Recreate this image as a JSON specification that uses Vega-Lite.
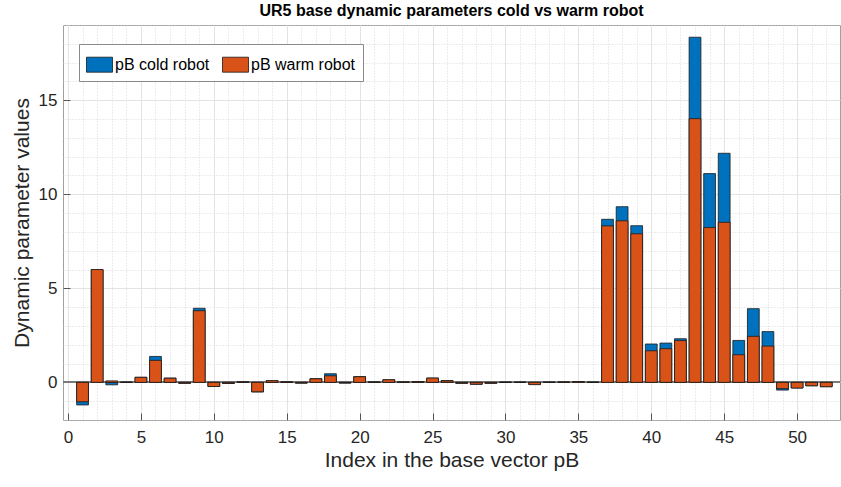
{
  "$schema": "https://vega.github.io/schema/vega-lite/v6.json",
  "width": 777,
  "height": 395,
  "autosize": "none",
  "padding": {"left": 63, "top": 25, "right": 1, "bottom": 67},
  "background": "white",
  "title": {"text": "UR5 base dynamic parameters cold vs warm robot", "fontSize": 16, "fontWeight": "bold", "color": "#000000", "anchor": "middle", "offset": 6},
  "config": {
    "font": "Liberation Sans",
    "view": {"stroke": "#a0a0a0", "strokeWidth": 1},
    "axis": {"labelColor": "#262626", "titleColor": "#262626", "titleFontWeight": "normal", "domain": false}
  },
  "data": {"values": [
    {"i": 1, "series": "cold", "v": -1.20},
    {"i": 2, "series": "cold", "v": 5.99},
    {"i": 3, "series": "cold", "v": -0.13},
    {"i": 4, "series": "cold", "v": 0.01},
    {"i": 5, "series": "cold", "v": 0.27},
    {"i": 6, "series": "cold", "v": 1.38},
    {"i": 7, "series": "cold", "v": 0.23},
    {"i": 8, "series": "cold", "v": -0.05},
    {"i": 9, "series": "cold", "v": 3.94},
    {"i": 10, "series": "cold", "v": -0.22},
    {"i": 11, "series": "cold", "v": -0.06},
    {"i": 12, "series": "cold", "v": 0.03},
    {"i": 13, "series": "cold", "v": -0.51},
    {"i": 14, "series": "cold", "v": 0.09},
    {"i": 15, "series": "cold", "v": 0.03},
    {"i": 16, "series": "cold", "v": -0.04},
    {"i": 17, "series": "cold", "v": 0.20},
    {"i": 18, "series": "cold", "v": 0.46},
    {"i": 19, "series": "cold", "v": -0.04},
    {"i": 20, "series": "cold", "v": 0.31},
    {"i": 21, "series": "cold", "v": 0.02},
    {"i": 22, "series": "cold", "v": 0.14},
    {"i": 23, "series": "cold", "v": 0.02},
    {"i": 24, "series": "cold", "v": 0.04},
    {"i": 25, "series": "cold", "v": 0.23},
    {"i": 26, "series": "cold", "v": 0.10},
    {"i": 27, "series": "cold", "v": -0.05},
    {"i": 28, "series": "cold", "v": -0.10},
    {"i": 29, "series": "cold", "v": -0.05},
    {"i": 30, "series": "cold", "v": 0.01},
    {"i": 31, "series": "cold", "v": 0.01},
    {"i": 32, "series": "cold", "v": -0.10},
    {"i": 33, "series": "cold", "v": 0.01},
    {"i": 34, "series": "cold", "v": 0.02},
    {"i": 35, "series": "cold", "v": 0.04},
    {"i": 36, "series": "cold", "v": 0.01},
    {"i": 37, "series": "cold", "v": 8.67},
    {"i": 38, "series": "cold", "v": 9.34},
    {"i": 39, "series": "cold", "v": 8.33},
    {"i": 40, "series": "cold", "v": 2.04},
    {"i": 41, "series": "cold", "v": 2.09},
    {"i": 42, "series": "cold", "v": 2.32},
    {"i": 43, "series": "cold", "v": 18.35},
    {"i": 44, "series": "cold", "v": 11.10},
    {"i": 45, "series": "cold", "v": 12.18},
    {"i": 46, "series": "cold", "v": 2.23},
    {"i": 47, "series": "cold", "v": 3.92},
    {"i": 48, "series": "cold", "v": 2.70},
    {"i": 49, "series": "cold", "v": -0.41},
    {"i": 50, "series": "cold", "v": -0.30},
    {"i": 51, "series": "cold", "v": -0.18},
    {"i": 52, "series": "cold", "v": -0.23},
    {"i": 1, "series": "warm", "v": -1.03},
    {"i": 2, "series": "warm", "v": 6.00},
    {"i": 3, "series": "warm", "v": 0.08},
    {"i": 4, "series": "warm", "v": 0.01},
    {"i": 5, "series": "warm", "v": 0.27},
    {"i": 6, "series": "warm", "v": 1.17},
    {"i": 7, "series": "warm", "v": 0.22},
    {"i": 8, "series": "warm", "v": -0.05},
    {"i": 9, "series": "warm", "v": 3.81},
    {"i": 10, "series": "warm", "v": -0.22},
    {"i": 11, "series": "warm", "v": -0.06},
    {"i": 12, "series": "warm", "v": 0.03},
    {"i": 13, "series": "warm", "v": -0.50},
    {"i": 14, "series": "warm", "v": 0.09},
    {"i": 15, "series": "warm", "v": 0.03},
    {"i": 16, "series": "warm", "v": -0.04},
    {"i": 17, "series": "warm", "v": 0.19},
    {"i": 18, "series": "warm", "v": 0.35},
    {"i": 19, "series": "warm", "v": -0.03},
    {"i": 20, "series": "warm", "v": 0.30},
    {"i": 21, "series": "warm", "v": 0.02},
    {"i": 22, "series": "warm", "v": 0.14},
    {"i": 23, "series": "warm", "v": 0.02},
    {"i": 24, "series": "warm", "v": 0.04},
    {"i": 25, "series": "warm", "v": 0.23},
    {"i": 26, "series": "warm", "v": 0.08},
    {"i": 27, "series": "warm", "v": -0.05},
    {"i": 28, "series": "warm", "v": -0.10},
    {"i": 29, "series": "warm", "v": -0.05},
    {"i": 30, "series": "warm", "v": 0.01},
    {"i": 31, "series": "warm", "v": 0.01},
    {"i": 32, "series": "warm", "v": -0.12},
    {"i": 33, "series": "warm", "v": 0.01},
    {"i": 34, "series": "warm", "v": 0.02},
    {"i": 35, "series": "warm", "v": 0.04},
    {"i": 36, "series": "warm", "v": 0.01},
    {"i": 37, "series": "warm", "v": 8.32},
    {"i": 38, "series": "warm", "v": 8.59},
    {"i": 39, "series": "warm", "v": 7.90},
    {"i": 40, "series": "warm", "v": 1.68},
    {"i": 41, "series": "warm", "v": 1.79},
    {"i": 42, "series": "warm", "v": 2.22},
    {"i": 43, "series": "warm", "v": 14.02},
    {"i": 44, "series": "warm", "v": 8.23},
    {"i": 45, "series": "warm", "v": 8.51},
    {"i": 46, "series": "warm", "v": 1.47},
    {"i": 47, "series": "warm", "v": 2.45},
    {"i": 48, "series": "warm", "v": 1.93},
    {"i": 49, "series": "warm", "v": -0.33},
    {"i": 50, "series": "warm", "v": -0.30},
    {"i": 51, "series": "warm", "v": -0.18},
    {"i": 52, "series": "warm", "v": -0.23}
  ]},
  "resolve": {"axis": {"x": "independent", "y": "independent"}},
  "layer": [
    {
      "mark": {"type": "bar", "opacity": 0, "width": 1},
      "encoding": {
        "x": {"field": "i", "type": "quantitative", "scale": {"domain": [0, 52.6], "nice": false, "zero": false},
          "axis": {"orient": "bottom", "values": [0,1,2,3,4,5,6,7,8,9,10,11,12,13,14,15,16,17,18,19,20,21,22,23,24,25,26,27,28,29,30,31,32,33,34,35,36,37,38,39,40,41,42,43,44,45,46,47,48,49,50,51,52],
            "grid": true, "gridDash": [1, 2], "gridColor": "#cfcfcf", "gridWidth": 0.8, "labels": false, "ticks": false, "title": null}},
        "y": {"field": "v", "type": "quantitative", "stack": null, "scale": {"domain": [-2, 19], "nice": false},
          "axis": {"orient": "left", "values": [-2,-1,0,1,2,3,4,5,6,7,8,9,10,11,12,13,14,15,16,17,18,19],
            "grid": true, "gridDash": [1, 2], "gridColor": "#cfcfcf", "gridWidth": 0.8, "labels": false, "ticks": false, "title": null}}
      }
    },
    {
      "mark": {"type": "rule", "color": "#7a7a7a", "strokeWidth": 1},
      "encoding": {"y": {"datum": 0, "type": "quantitative", "axis": null}}
    },
    {
      "mark": {"type": "bar", "width": 11.8, "stroke": "#1a1a1a", "strokeWidth": 0.8},
      "encoding": {
        "x": {"field": "i", "type": "quantitative",
          "axis": {"orient": "bottom", "values": [0,5,10,15,20,25,30,35,40,45,50], "grid": true, "gridColor": "#e3e3e3",
            "tickSize": -7, "tickColor": "#555555", "labelFontSize": 17, "labelPadding": 16,
            "title": "Index in the base vector pB", "titleFontSize": 21, "titlePadding": 4}},
        "y": {"field": "v", "type": "quantitative", "stack": null,
          "axis": {"orient": "left", "values": [0,5,10,15], "grid": true, "gridColor": "#e3e3e3",
            "tickSize": -7, "tickColor": "#555555", "labelFontSize": 17, "labelPadding": 13,
            "title": "Dynamic parameter values", "titleFontSize": 21, "titlePadding": 6}},
        "color": {"field": "series", "type": "nominal",
          "scale": {"domain": ["cold", "warm"], "range": ["#0072BD", "#D95319"]},
          "legend": {"title": null, "orient": "none", "legendX": 16, "legendY": 19, "direction": "horizontal",
            "labelExpr": "datum.value == 'cold' ? 'pB cold robot' : 'pB warm robot'",
            "strokeColor": "#8a8a8a", "fillColor": "#ffffff", "padding": 7, "columnPadding": 10,
            "labelFontSize": 16, "labelColor": "#000000", "labelOffset": 2,
            "symbolType": "M-1,-0.577L1,-0.577L1,0.577L-1,0.577Z", "symbolSize": 676,
            "symbolStrokeColor": "#1a1a1a", "symbolStrokeWidth": 0.8, "symbolOpacity": 1}}
      }
    }
  ]
}
